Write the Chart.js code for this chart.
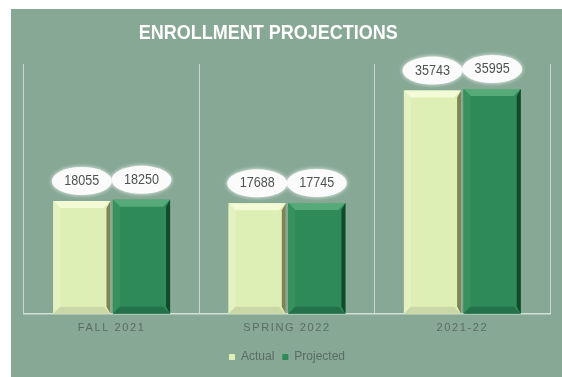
<!DOCTYPE html>
<html>
<head>
<meta charset="utf-8">
<script src="https://cdn.jsdelivr.net/npm/chart.js@4.4.1/dist/chart.umd.min.js"></script>
<style>
  body { margin: 0; background: #fff; }
  #box { position: absolute; left: 11px; top: 9px; width: 551px; height: 368px; background: #86a895; }
</style>
</head>
<body>
<div id="box"><canvas id="enrollChart"></canvas></div>
<script>
const categories = ['FALL 2021', 'SPRING 2022', '2021-22'];
const actual = [18055, 17688, 35743];
const projected = [18250, 17745, 35995];
const seriesNames = ['Actual', 'Projected'];

// colours for the bevelled bars: face, top, left, right, bottom
const bevelColors = [
  { face: '#ddefb5', top: '#f3fbd6', left: '#e4f2c2', right: '#7d8456', bottom: '#c9d8a6' },
  { face: '#2e8a59', top: '#56a978', left: '#36915e', right: '#0f4a2a', bottom: '#22714a' }
];

const bevelPlugin = {
  id: 'bevel',
  afterDatasetsDraw(chart) {
    const ctx = chart.ctx;
    chart.data.datasets.forEach((ds, di) => {
      const meta = chart.getDatasetMeta(di);
      const c = bevelColors[di];
      meta.data.forEach((bar) => {
        const p = bar.getProps(['x', 'y', 'base', 'width'], true);
        const L = p.x - p.width / 2, R = p.x + p.width / 2, T = p.y, B = p.base;
        const b = 7;
        const quad = (pts, col) => {
          ctx.beginPath();
          ctx.moveTo(pts[0][0], pts[0][1]);
          for (let i = 1; i < pts.length; i++) ctx.lineTo(pts[i][0], pts[i][1]);
          ctx.closePath();
          ctx.fillStyle = col;
          ctx.fill();
        };
        ctx.save();
        quad([[L, T], [R, T], [R - b, T + b], [L + b, T + b]], c.top);
        quad([[L, T], [L + b, T + b], [L + b, B - b], [L, B]], c.left);
        quad([[R, T], [R, B], [R - b + 3, B - b], [R - b + 3, T + b]], c.right);
        quad([[L, B], [R, B], [R - b, B - b], [L + b, B - b]], c.bottom);
        ctx.restore();
      });
    });

    // value bubbles
    chart.data.datasets.forEach((ds, di) => {
      const meta = chart.getDatasetMeta(di);
      meta.data.forEach((bar, i) => {
        const p = bar.getProps(['x', 'y'], true);
        const cx = p.x, cy = p.y - 20;
        ctx.save();
        ctx.shadowColor = 'rgba(255,255,255,0.9)';
        ctx.shadowBlur = 4;
        ctx.beginPath();
        ctx.ellipse(cx, cy, 30, 14, 0, 0, Math.PI * 2);
        ctx.fillStyle = '#fbfbfb';
        ctx.fill();
        ctx.restore();
        ctx.save();
        ctx.translate(cx, cy);
        ctx.scale(0.84, 1);
        ctx.fillStyle = '#4e5350';
        ctx.font = '15px "Liberation Sans", Arial, sans-serif';
        ctx.textAlign = 'center';
        ctx.textBaseline = 'middle';
        ctx.fillText(ds.data[i], 0, 0);
        ctx.restore();
      });
    });
  }
};

// letter spacing for the category labels, narrower and shifted title
const tweakPlugin = {
  id: 'tweaks',
  afterUpdate(chart) {
    const s = chart.scales.x;
    if (!s._spaced) {
      const orig = s.drawLabels;
      s.drawLabels = function (area) {
        this.ctx.save();
        this.ctx.letterSpacing = '1.6px';
        orig.call(this, area);
        this.ctx.restore();
      };
      s._spaced = true;
    }
    const t = chart.titleBlock;
    if (t && !t._shifted) {
      const origT = t.draw;
      t.draw = function () {
        const ctx = this.ctx;
        const cx = (this.left + this.right) / 2 - 17;
        ctx.save();
        ctx.translate(cx, 0);
        ctx.scale(0.9, 1);
        ctx.translate(-cx - 17 / 0.9, 0);
        origT.apply(this, arguments);
        ctx.restore();
      };
      t._shifted = true;
    }
  }
};

new Chart(document.getElementById('enrollChart'), {
  type: 'bar',
  data: {
    labels: categories,
    datasets: [
      { label: seriesNames[0], data: actual, backgroundColor: bevelColors[0].face, borderWidth: 0 },
      { label: seriesNames[1], data: projected, backgroundColor: bevelColors[1].face, borderWidth: 0 }
    ]
  },
  options: {
    responsive: true,
    maintainAspectRatio: false,
    animation: false,
    layout: { padding: { left: 13, right: 12, top: 3, bottom: 4 } },
    categoryPercentage: 0.68,
    barPercentage: 0.96,
    scales: {
      x: {
        grid: { display: true, offset: true, color: '#c9d8ce', lineWidth: 1, drawTicks: false },
        border: { display: true, color: '#d3dfd6', width: 1.5 },
        ticks: { color: '#5b6c62', font: { family: 'Liberation Sans, Arial', size: 11 }, padding: 8 }
      },
      y: { display: false, min: 0, max: 40000 }
    },
    plugins: {
      title: {
        display: true,
        text: 'ENROLLMENT PROJECTIONS',
        color: '#ffffff',
        font: { family: 'Liberation Sans, Arial', size: 20, weight: 'bold' },
        padding: { top: 9, bottom: 19 }
      },
      legend: {
        position: 'bottom',
        labels: {
          boxWidth: 6,
          boxHeight: 6,
          padding: 8,
          color: '#5b6c62',
          font: { family: 'Liberation Sans, Arial', size: 12 }
        }
      },
      tooltip: { enabled: false }
    }
  },
  plugins: [bevelPlugin, tweakPlugin]
});
</script>
</body>
</html>
